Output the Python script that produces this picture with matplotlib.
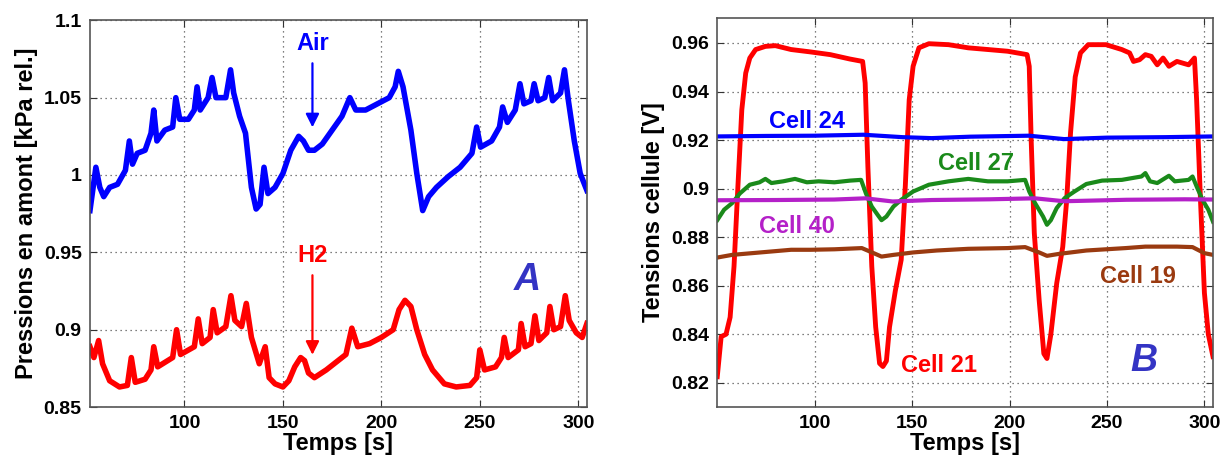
import matplotlib
matplotlib.use('Agg')
import matplotlib.pyplot as plt

plt.rcParams['font.family'] = ['Liberation Sans', 'DejaVu Sans']
plt.rcParams['font.weight'] = 'bold'

# --- panel A : upstream pressures ---
air_t = [52, 55, 57, 59, 62, 66, 70, 72, 73.6, 76, 80, 83, 84.4, 86, 90, 94, 95.6, 97.6,
         102, 105, 106.4, 108, 112, 114, 116, 121, 123.4, 125, 128, 131, 134, 136.4, 138.4,
         140.4, 142.4, 146, 150, 154, 158, 160.4, 163, 166, 170, 175, 180, 184, 187, 192,
         198, 204, 207, 208.6, 211, 215, 218, 221, 224, 228, 234, 240, 246, 248.4, 250.4,
         256, 260, 261.6, 264, 268, 270.4, 272.4, 276, 277.6, 279.6, 283, 285, 287, 291,
         293, 295, 298, 301, 304.4]
air_p = [0.977, 1.005, 0.992, 0.986, 0.992, 0.994, 1.003, 1.022, 1.007, 1.014, 1.016, 1.027,
         1.042, 1.022, 1.029, 1.031, 1.050, 1.036, 1.036, 1.042, 1.057, 1.042, 1.050, 1.063,
         1.050, 1.050, 1.068, 1.053, 1.038, 1.027, 0.992, 0.978, 0.981, 1.005, 0.988, 0.992,
         1.001, 1.016, 1.025, 1.022, 1.016, 1.016, 1.020, 1.029, 1.038, 1.050, 1.042, 1.042,
         1.046, 1.050, 1.057, 1.067, 1.057, 1.029, 1.001, 0.977, 0.986, 0.992, 0.999, 1.005,
         1.014, 1.031, 1.018, 1.022, 1.031, 1.044, 1.034, 1.042, 1.059, 1.046, 1.048, 1.059,
         1.048, 1.050, 1.063, 1.048, 1.053, 1.068, 1.048, 1.022, 1.001, 0.990]

h2_t = [52, 54, 56.4, 58.4, 62, 67, 71, 73, 75, 80, 83, 84.4, 86.4, 94, 96, 98, 105, 107,
        109, 113, 114.6, 116.6, 121, 123.6, 125.6, 129, 131.4, 134, 138, 141, 143, 146, 150,
        153, 156, 159, 161, 163, 166, 172, 178, 182, 185, 188, 194, 200, 206, 209, 212, 215,
        218, 222, 226, 232, 238, 245, 248.4, 250, 252.4, 258, 261, 262.4, 264.4, 269.6, 271,
        273, 276, 278, 280, 284, 285.6, 287.6, 291, 293.4, 295.4, 299, 302, 304.4]
h2_p = [0.889, 0.882, 0.893, 0.878, 0.867, 0.863, 0.864, 0.882, 0.866, 0.868, 0.874, 0.889,
        0.876, 0.882, 0.900, 0.884, 0.889, 0.907, 0.891, 0.895, 0.913, 0.898, 0.902, 0.922,
        0.906, 0.902, 0.917, 0.895, 0.878, 0.889, 0.869, 0.865, 0.863, 0.867, 0.876, 0.882,
        0.880, 0.872, 0.869, 0.874, 0.880, 0.884, 0.901, 0.889, 0.891, 0.895, 0.900, 0.913,
        0.919, 0.915, 0.900, 0.884, 0.874, 0.865, 0.863, 0.864, 0.869, 0.887, 0.874, 0.876,
        0.882, 0.895, 0.882, 0.887, 0.904, 0.889, 0.891, 0.909, 0.893, 0.898, 0.915, 0.900,
        0.902, 0.922, 0.906, 0.898, 0.895, 0.904]

# --- panel B : cell voltages ---
c21_t = [50, 52, 54.5, 56.6, 58.6, 60.6, 62.6, 64.6, 66.7, 69.7, 74.7, 79.8, 87.9, 98, 108,
         118, 124.6, 125.9, 127.3, 129.3, 131.3, 133.3, 135, 136.8, 138.4, 141.4, 144.4,
         146.5, 148.5, 150.5, 153.5, 158.6, 168.7, 178.8, 188.9, 199, 209, 210.1, 211.1,
         212.7, 215.2, 217.6, 219.2, 221.2, 224.2, 227.3, 229.3, 231.3, 233.7, 236.4, 240.4,
         249.5, 257.6, 261.6, 263.6, 266.7, 269.7, 272.7, 275.8, 278.8, 281.8, 285.9, 291.9,
         294.9, 296, 298, 300, 302, 304.4]
c21_v = [0.8225, 0.839, 0.840, 0.847, 0.868, 0.901, 0.9325, 0.9476, 0.9538, 0.9573, 0.9586,
         0.9589, 0.9573, 0.9563, 0.9552, 0.9534, 0.9524, 0.9435, 0.909, 0.868, 0.843, 0.828,
         0.8267, 0.829, 0.843, 0.858, 0.8707, 0.901, 0.9366, 0.9504, 0.958, 0.9597, 0.9593,
         0.958, 0.9573, 0.9566, 0.9552, 0.9504, 0.920, 0.8817, 0.854, 0.832, 0.830, 0.840,
         0.861, 0.876, 0.895, 0.923, 0.946, 0.9559, 0.9593, 0.9593, 0.9573, 0.9559, 0.9524,
         0.9531, 0.9552, 0.9545, 0.951, 0.9538, 0.9504, 0.9524, 0.951, 0.9538, 0.9366, 0.895,
         0.857, 0.840, 0.8308]

c24_t = [50, 75, 100, 125, 145, 160, 180, 210, 228, 250, 280, 304.4]
c24_v = [0.9215, 0.9217, 0.9218, 0.9222, 0.9212, 0.9208, 0.9214, 0.9218, 0.9204, 0.9210,
         0.9212, 0.9215]

c27_t = [50, 53.5, 57.6, 61.6, 66.7, 71.7, 74.7, 77.8, 83.8, 89.9, 96, 102, 110.1, 118.2,
         123.8, 126.3, 129.3, 132.3, 134.3, 136.8, 140.4, 144.4, 150.5, 158.6, 168.7, 178.8,
         188.9, 199, 208, 210.1, 213.1, 217.2, 219.2, 221.2, 224.2, 228.3, 233.3, 239.4,
         247.5, 257.6, 267.7, 269.7, 272.1, 275.8, 281.8, 284.8, 291.9, 293.9, 296, 299, 302,
         304.4]
c27_v = [0.887, 0.8913, 0.894, 0.898, 0.9016, 0.9026, 0.904, 0.9023, 0.903, 0.904, 0.9026,
         0.903, 0.9026, 0.9033, 0.9036, 0.898, 0.8926, 0.8892, 0.887, 0.8885, 0.8926, 0.8954,
         0.8988, 0.9016, 0.903, 0.904, 0.903, 0.903, 0.9036, 0.8988, 0.894, 0.8885, 0.8851,
         0.887, 0.892, 0.8961, 0.8988, 0.9019, 0.9033, 0.9036, 0.905, 0.9064, 0.903, 0.9023,
         0.9053, 0.903, 0.9036, 0.905, 0.9009, 0.8954, 0.8913, 0.8864]

c40_t = [50, 80, 110, 126, 140, 160, 190, 213, 228, 260, 290, 304.4]
c40_v = [0.8952, 0.8953, 0.8955, 0.8960, 0.8947, 0.8953, 0.8956, 0.8960, 0.8948, 0.8954,
         0.8956, 0.8955]

c19_t = [50, 57.6, 67.7, 77.8, 87.9, 98, 110.1, 124.2, 130.3, 134.3, 140.4, 150.5, 162.6,
         178.8, 199, 208, 215.2, 219.2, 225.3, 239.4, 259.6, 269.7, 285.9, 293.9, 300, 304.4]
c19_v = [0.8716, 0.8727, 0.8734, 0.8741, 0.8748, 0.8748, 0.875, 0.8755, 0.8734, 0.872,
         0.8727, 0.8737, 0.8745, 0.8752, 0.8755, 0.8759, 0.8737, 0.8723, 0.8731, 0.8745,
         0.8755, 0.8761, 0.8761, 0.8759, 0.8734, 0.8727]

fig = plt.figure(figsize=(12.24, 4.61), dpi=100)
ax1 = fig.add_axes([0.0735, 0.117, 0.406, 0.839])
ax2 = fig.add_axes([0.586, 0.117, 0.405, 0.844])


def matlab_style(ax):
    ax.grid(True, linestyle=(0, (1, 3)), color='#555555', linewidth=0.9)
    ax.tick_params(direction='in', top=True, right=True, labelsize=14, length=5,
                   color='#333333', pad=6)
    for s in ax.spines.values():
        s.set_color('#555555')
        s.set_linewidth(1.2)
    ax.set_xticks([100, 150, 200, 250, 300])
    ax.set_xlabel('Temps [s]', fontsize=17, fontweight='bold', labelpad=0)


ax1.plot(air_t, air_p, color='#0000ff', lw=4)
ax1.plot(h2_t, h2_p, color='#ff0000', lw=4)
ax1.set_xlim(52, 304.4)
ax1.set_ylim(0.85, 1.1)
ax1.set_yticks([0.85, 0.9, 0.95, 1.0, 1.05, 1.1])
ax1.set_yticklabels(['0.85', '0.9', '0.95', '1', '1.05', '1.1'])
matlab_style(ax1)
ax1.set_ylabel('Pressions en amont [kPa rel.]', fontsize=17, fontweight='bold',
               labelpad=4)

ax1.text(165, 1.085, 'Air', color='#0000ff', fontsize=17, ha='center', va='center')
ax1.annotate('', xy=(165, 1.029), xytext=(165, 1.074),
             arrowprops=dict(arrowstyle='-|>', color='#0000ff', lw=1.6, mutation_scale=20))
ax1.text(165, 0.948, 'H2', color='#ff0000', fontsize=17, ha='center', va='center')
ax1.annotate('', xy=(165, 0.882), xytext=(165, 0.937),
             arrowprops=dict(arrowstyle='-|>', color='#ff0000', lw=1.6, mutation_scale=20))
ax1.text(274, 0.932, 'A', color='#3434c4', fontsize=27, style='italic', ha='center',
         va='center')

ax2.plot(c21_t, c21_v, color='#ff0000', lw=3.5)
ax2.plot(c24_t, c24_v, color='#0000ff', lw=3)
ax2.plot(c27_t, c27_v, color='#1a8a1a', lw=3)
ax2.plot(c40_t, c40_v, color='#b420c8', lw=3)
ax2.plot(c19_t, c19_v, color='#9a3a10', lw=3)
ax2.set_xlim(50, 304.4)
ax2.set_ylim(0.81, 0.9703)
ax2.set_yticks([0.82, 0.84, 0.86, 0.88, 0.9, 0.92, 0.94, 0.96])
ax2.set_yticklabels(['0.82', '0.84', '0.86', '0.88', '0.9', '0.92', '0.94', '0.96'])
matlab_style(ax2)
ax2.set_ylabel('Tensions cellule [V]', fontsize=17, fontweight='bold', labelpad=4)

ax2.text(96, 0.9277, 'Cell 24', color='#0000ff', fontsize=17, ha='center', va='center')
ax2.text(183, 0.9105, 'Cell 27', color='#1a8a1a', fontsize=17, ha='center', va='center')
ax2.text(91, 0.8844, 'Cell 40', color='#b420c8', fontsize=17, ha='center', va='center')
ax2.text(266, 0.8638, 'Cell 19', color='#9a3a10', fontsize=17, ha='center', va='center')
ax2.text(164, 0.8273, 'Cell 21', color='#ff0000', fontsize=17, ha='center', va='center')
ax2.text(269, 0.829, 'B', color='#3434c4', fontsize=27, style='italic', ha='center',
         va='center')

fig.savefig('out.png', dpi=100)
